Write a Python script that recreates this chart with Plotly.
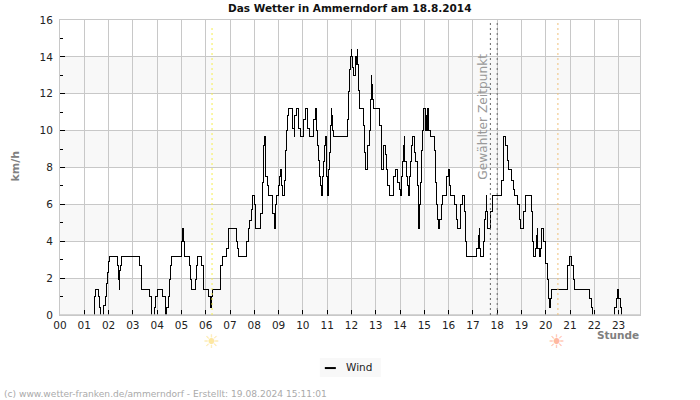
import plotly.graph_objects as go

hours = [0,1.40,1.44,1.48,1.57,1.61,1.65,1.68,1.81,1.87,1.91,1.95,1.99,2.03,2.35,2.40,2.45,2.47,2.50,2.53,3.26,3.34,3.37,3.67,3.75,3.78,3.90,3.94,4.0,4.24,4.33,4.35,4.40,4.45,4.49,4.53,4.57,5.0,5.05,5.10,5.14,5.32,5.38,5.41,5.56,5.63,5.66,5.81,5.89,5.92,6.10,6.18,6.22,6.26,6.59,6.68,6.85,6.92,7.27,7.31,7.35,7.37,
7.68,7.75,7.81,7.88,7.92,7.99,8.03,8.06,8.25,8.32,8.36,8.39,8.42,8.46,8.47,8.53,8.58,8.75,8.82,8.87,8.91,9.0,9.04,9.08,9.11,9.16,9.26,9.30,9.33,9.37,9.41,9.56,9.64,9.67,9.72,9.81,9.90,10.04,10.09,10.18,10.26,10.42,10.51,10.55,10.60,10.64,10.70,10.74,10.77,10.81,10.85,10.89,10.93,10.96,11.0,11.04,11.08,11.12,11.17,11.19,11.23,11.28,11.83,11.88,11.92,11.96,11.99,12.02,12.04,12.09,12.15,12.21,12.24,12.26,12.29,12.33,12.48,12.55,12.59,12.66,12.73,12.77,12.81,12.84,12.87,12.91,13.14,13.23,13.25,13.32,13.40,13.45,13.49,13.56,13.72,13.82,13.90,13.98,14.01,14.05,14.09,14.13,14.17,14.20,14.27,14.31,14.35,14.39,14.44,14.48,14.50,14.59,14.65,14.70,14.74,14.76,14.79,14.83,14.87,14.92,14.96,14.98,15.03,15.07,15.11,15.15,15.19,15.26,15.40,15.48,15.52,15.56,15.60,15.64,15.69,15.73,15.92,16.0,16.04,16.08,16.23,16.32,16.36,16.50,16.58,16.66,16.69,16.71,16.73,
17.16,17.23,17.27,17.29,17.32,17.42,17.46,17.50,17.54,17.57,17.61,17.71,17.80,18.17,18.24,18.27,18.34,18.41,18.45,18.60,18.67,18.71,18.83,18.91,18.96,19.08,19.18,19.41,19.45,19.49,19.57,19.62,19.66,19.68,19.74,19.77,19.81,19.84,19.92,20.0,20.06,20.10,20.14,20.18,20.22,20.89,20.98,21.06,21.14,21.18,21.80,21.88,21.92,22.83,22.90,22.94,23.01,23.08,23.12,23.88]
wind = [0,0.5,1.0,1.4,1.0,0.4,0.4,0,0.5,1.0,1.7,2.3,2.9,3.2,2.7,1.9,1.4,2.4,2.7,3.2,2.7,1.9,1.4,1.0,0.4,0,0.4,1.0,1.4,1.0,0.4,0,0.4,1.0,1.9,2.7,3.2,4.0,4.7,4.0,3.2,2.7,1.9,1.4,1.9,2.7,3.2,2.7,1.9,1.4,1.0,0.4,1.0,1.4,2.7,3.2,3.6,4.7,4.0,3.6,3.2,3.2,
4.0,4.7,5.1,5.7,6.5,6.0,5.3,4.7,5.5,7.2,8.3,9.2,9.7,8.3,7.5,7.0,6.5,5.5,4.7,6.0,6.5,7.0,7.5,7.9,7.0,6.5,7.3,8.9,10.0,10.8,11.2,10.1,9.7,10.8,11.2,10.1,9.7,10.6,11.2,10.1,9.7,10.6,11.2,10.0,9.2,8.4,7.5,7.0,6.5,7.5,8.3,9.2,9.7,7.5,6.5,7.9,8.8,10.3,11.2,10.8,10.0,9.7,10.6,12.1,13.3,14.0,14.4,14.0,13.4,13.0,14.0,13.6,14.4,13.6,12.2,11.2,10.3,8.8,7.9,9.2,10.0,11.7,13.0,12.5,11.7,11.2,10.3,8.8,7.9,9.2,8.7,7.9,7.0,6.5,7.5,7.9,7.2,6.8,6.5,7.5,8.3,9.2,9.7,8.3,7.5,7.0,6.5,7.5,8.3,9.2,9.7,8.8,8.3,7.0,5.5,4.7,6.0,7.2,8.9,10.0,10.8,11.2,10.0,10.8,10.0,11.2,10.0,9.7,8.9,7.2,6.0,5.2,4.7,5.2,6.0,6.5,7.5,7.9,7.0,6.5,6.0,5.2,4.7,6.0,6.5,5.6,4.7,4.0,3.2,
3.6,4.3,4.7,3.6,3.2,4.0,5.2,5.6,6.5,5.6,4.7,5.6,6.5,7.3,8.9,9.7,9.2,8.4,7.9,7.3,6.8,6.5,6.0,5.2,4.7,5.6,6.5,5.6,4.0,3.2,3.6,4.3,4.7,3.6,3.2,3.6,4.3,4.7,4.0,2.8,1.9,0.9,0.4,0.9,1.4,2.7,3.2,2.7,1.9,1.4,0.9,0.4,0,0.4,0.9,1.4,0.9,0.4,0,0]
hour_labels = [f"{h:02d}" for h in range(24)]
hour_ticks = list(range(24))
y_ticks = list(range(0, 17, 2))
band_starts = [0, 4, 8, 12]
sunrise = 6.26
sunset = 20.5
selected = [17.72, 18.0]

FONT = "DejaVu Sans"
fig = go.Figure()
fig.add_trace(go.Scatter(x=hours, y=wind, mode="lines", name="Wind", line=dict(color="black", width=1, shape="hv"), showlegend=False, hoverinfo="skip"))

shapes = []
for b in band_starts:
    shapes.append(dict(type="rect", xref="x", yref="y", x0=0, x1=23.88, y0=b, y1=b + 2, fillcolor="#f8f8f8", line_width=0, layer="below"))
shapes.append(dict(type="line", xref="x", yref="y", x0=0, x1=23.88, y0=0, y1=0, line=dict(color="#c8c8c8", width=1.5), layer="above"))
shapes.append(dict(type="line", xref="x", yref="y", x0=sunrise, x1=sunrise, y0=0, y1=15.7, line=dict(color="#f5ee50", width=1, dash="2px,3px"), layer="above"))
shapes.append(dict(type="line", xref="x", yref="y", x0=sunset, x1=sunset, y0=0, y1=16, line=dict(color="#f0c078", width=1, dash="2px,3px"), layer="above"))
for s in selected:
    shapes.append(dict(type="line", xref="x", yref="y", x0=s, x1=s, y0=0, y1=16, line=dict(color="#666666", width=1, dash="2px,3px"), layer="above"))
# legend
shapes.append(dict(type="rect", xref="paper", yref="paper", x0=(320-60.3)/579.7, x1=(381-60.3)/579.7, y0=(315-377)/294.7, y1=(315-358)/294.7, fillcolor="#f8f8f8", line_width=0))
shapes.append(dict(type="line", xref="paper", yref="paper", x0=(325-60.3)/579.7, x1=(336-60.3)/579.7, y0=(315-368)/294.7, y1=(315-368)/294.7, line=dict(color="black", width=2)))

def ann(text, px, py, size, color, xanchor="center", bold=False, angle=0):
    return dict(text=f"<b>{text}</b>" if bold else text, xref="paper", yref="paper",
                x=(px-60.3)/579.7, y=(315-py)/294.7, showarrow=False, xanchor=xanchor, yanchor="middle",
                textangle=angle, font=dict(family=FONT, size=size, color=color), borderpad=0, xshift=0)

annotations = [
    ann("Das Wetter in Ammerndorf am 18.8.2014", 350, 8.5, 10.5, "#111111", bold=True),
    ann("km/h", 15.5, 166.5, 11, "#808080", bold=True, angle=-90),
    ann("Stunde", 640, 334.5, 10.5, "#808080", xanchor="right", bold=True),
    ann("Wind", 345, 366.5, 10.5, "#222222", xanchor="left"),
    ann("(c) www.wetter-franken.de/ammerndorf - Erstellt: 19.08.2024 15:11:01", 3, 393.5, 9.1, "#aaaaaa", xanchor="left"),
    ann("Gewählter Zeitpunkt", 483.5, 116.5, 12.2, "#999999", angle=-90),
    ann("☀", 211.5, 341, 19, "#fde7a0"),
    ann("☀", 557, 341, 19, "#ffb8a0"),
]

fig.update_layout(
    width=700, height=400, autosize=False, template=None,
    paper_bgcolor="white", plot_bgcolor="white",
    margin=dict(l=60.3, r=60, t=20.3, b=85, pad=0),
    font=dict(family=FONT, size=10.5, color="#222222"),
    showlegend=False, shapes=shapes, annotations=annotations,
    xaxis=dict(range=[0, 23.88], tickmode="array", tickvals=hour_ticks, ticktext=hour_labels,
               ticks="inside", ticklen=5, tickcolor="black", tickwidth=1, showgrid=True,
               gridcolor="#c8c8c8", gridwidth=1, showline=True, linecolor="#c8c8c8", linewidth=1,
               mirror=True, zeroline=False, layer="above traces", tickfont=dict(size=10.5, color="#222222")),
    yaxis=dict(range=[0, 16], tickmode="array", tickvals=y_ticks,
               ticks="inside", ticklen=5, tickcolor="black", tickwidth=1, showgrid=True,
               gridcolor="#c8c8c8", gridwidth=1, showline=True, linecolor="#c8c8c8", linewidth=1,
               mirror=True, zeroline=False, layer="above traces", ticklabelstandoff=4,
               minor=dict(dtick=1, tick0=1, ticks="inside", ticklen=3, tickcolor="black", tickwidth=1, showgrid=False),
               tickfont=dict(size=10.5, color="#222222")),
)
fig.write_html("out.html", config=dict(displayModeBar=False),
               post_script="document.body.style.margin='0';document.querySelectorAll('.scatterlayer .js-line').forEach(function(p){p.style.shapeRendering='crispEdges';});")
